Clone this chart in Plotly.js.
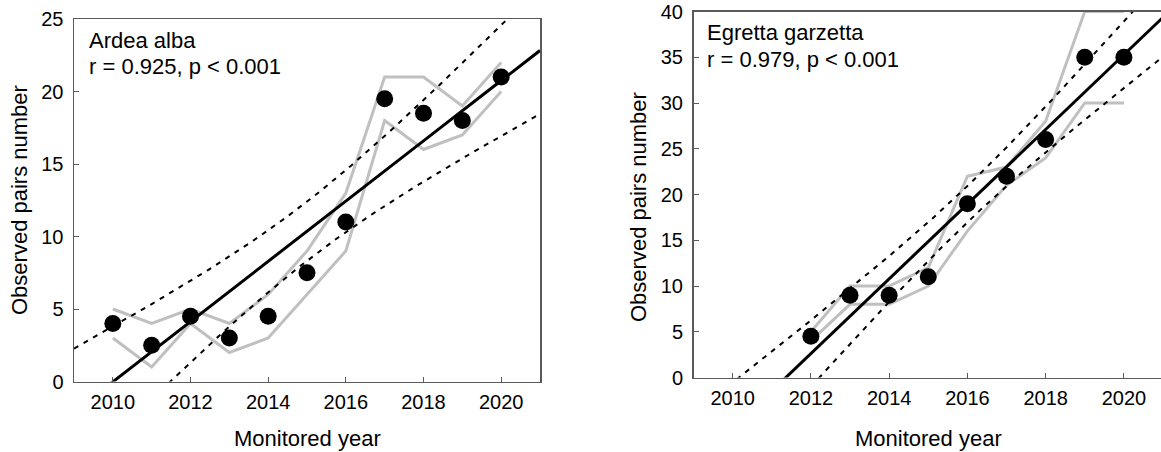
<!DOCTYPE html>
<html>
<head>
<meta charset="utf-8">
<script src="https://cdn.plot.ly/plotly-3.0.1.min.js"></script>
<style>
  html, body { margin: 0; padding: 0; overflow: hidden; background: #ffffff; }
  #chart { width: 1170px; height: 452px; }
</style>
</head>
<body>
<div id="chart"></div>
<script>
// ---- Observed breeding pairs per monitored year ----
// Ardea alba
const albaYears = [2010, 2011, 2012, 2013, 2014, 2015, 2016, 2017, 2018, 2019, 2020];
const albaMean  = [4, 2.5, 4.5, 3, 4.5, 7.5, 11, 19.5, 18.5, 18, 21];
const albaMax   = [5, 4, 5, 4, 6, 9, 13, 21, 21, 19, 22];
const albaMin   = [3, 1, 4, 2, 3, 6, 9, 18, 16, 17, 20];
const albaTitle = "Ardea alba";
const albaStats = "r = 0.925, p < 0.001";

// Egretta garzetta
const garzYears = [2012, 2013, 2014, 2015, 2016, 2017, 2018, 2019, 2020];
const garzMean  = [4.5, 9, 9, 11, 19, 22, 26, 35, 35];
const garzMax   = [5, 10, 10, 12, 22, 23, 28, 40, 40];
const garzMin   = [4, 8, 8, 10, 16, 21, 24, 30, 30];
const garzTitle = "Egretta garzetta";
const garzStats = "r = 0.979, p < 0.001";

// Axis labels and ticks
const xTitle = "Monitored year";
const yTitle = "Observed pairs number";
const yearTicks = [2010, 2012, 2014, 2016, 2018, 2020];
const yearRange = [2009, 2021];

// Two-sided 95% Student t quantiles for n - 2 degrees of freedom
const tCrit = { 7: 2.365, 9: 2.262 };

// Least-squares line with 95% confidence band of the mean
function regression(xs, ys, x0, x1) {
  const n = xs.length;
  const mx = xs.reduce((a, b) => a + b, 0) / n;
  const my = ys.reduce((a, b) => a + b, 0) / n;
  let sxx = 0, sxy = 0;
  for (let i = 0; i < n; i++) {
    sxx += (xs[i] - mx) * (xs[i] - mx);
    sxy += (xs[i] - mx) * (ys[i] - my);
  }
  const b = sxy / sxx, a = my - b * mx;
  let sse = 0;
  for (let i = 0; i < n; i++) {
    const e = ys[i] - (a + b * xs[i]);
    sse += e * e;
  }
  const s = Math.sqrt(sse / (n - 2));
  const t = tCrit[n - 2];
  const gx = [], fit = [], lo = [], hi = [];
  const steps = 240;
  for (let k = 0; k <= steps; k++) {
    const x = x0 + (x1 - x0) * k / steps;
    const yhat = a + b * x;
    const half = t * s * Math.sqrt(1 / n + (x - mx) * (x - mx) / sxx);
    gx.push(x); fit.push(yhat); lo.push(yhat - half); hi.push(yhat + half);
  }
  return { gx, fit, lo, hi };
}

// ---- Page geometry (pixels) ----
const W = 1170, H = 452;
const panels = {
  left:  { x0: 74,    x1: 540,  top: 19,   bottom: 381.5 },
  right: { x0: 693.5, x1: 1163, top: 11.5, bottom: 377.5 }
};
const px = v => v / W;
const py = v => (H - v) / H;

const FONT = "Liberation Sans, Arial, Helvetica, sans-serif";
const GREY = "#c0c0c0";
const FRAME = "#5a5a5a";

function panelTraces(xs, mean, mx, mn, xa, ya) {
  const reg = regression(xs, mean, yearRange[0], yearRange[1]);
  const common = { xaxis: xa, yaxis: ya, hoverinfo: "skip", showlegend: false };
  return [
    Object.assign({ x: xs, y: mx, mode: "lines", line: { color: GREY, width: 3 } }, common),
    Object.assign({ x: xs, y: mn, mode: "lines", line: { color: GREY, width: 3 } }, common),
    Object.assign({ x: reg.gx, y: reg.hi, mode: "lines", line: { color: "#000", width: 2, dash: "5px,6px" } }, common),
    Object.assign({ x: reg.gx, y: reg.lo, mode: "lines", line: { color: "#000", width: 2, dash: "5px,6px" } }, common),
    Object.assign({ x: reg.gx, y: reg.fit, mode: "lines", line: { color: "#000", width: 3 } }, common),
    Object.assign({ x: xs, y: mean, mode: "markers", marker: { color: "#000", size: 17 } }, common)
  ];
}

const traces = [].concat(
  panelTraces(albaYears, albaMean, albaMax, albaMin, "x", "y"),
  panelTraces(garzYears, garzMean, garzMax, garzMin, "x2", "y2")
);

function xAxis(p, anchor) {
  return {
    domain: [px(p.x0), px(p.x1)], anchor: anchor,
    range: yearRange, tickvals: yearTicks,
    ticks: "inside", ticklen: 5, tickwidth: 1, tickcolor: FRAME,
    showline: true, mirror: true, linecolor: FRAME, linewidth: 1.5,
    showgrid: false, zeroline: false, fixedrange: true,
    ticklabelstandoff: 2,
    tickfont: { family: FONT, size: 20, color: "#000" }
  };
}
function yAxis(p, anchor, maxVal) {
  return {
    domain: [py(p.bottom), py(p.top)], anchor: anchor,
    range: [0, maxVal], dtick: 5, tick0: 0,
    ticks: "inside", ticklen: 5, tickwidth: 1, tickcolor: FRAME,
    showline: true, mirror: true, linecolor: FRAME, linewidth: 1.5,
    showgrid: false, zeroline: false, fixedrange: true,
    ticklabelstandoff: 5,
    tickfont: { family: FONT, size: 20, color: "#000" }
  };
}

function label(text, xPix, yPix, opts) {
  return Object.assign({
    text: text, xref: "paper", yref: "paper",
    x: px(xPix), y: py(yPix), showarrow: false,
    xanchor: "left", yanchor: "middle",
    font: { family: FONT, size: 22, color: "#000" }
  }, opts || {});
}

const annotations = [
  label(albaTitle, 87, 41),
  label(albaStats, 87, 67),
  label(garzTitle, 705, 33),
  label(garzStats, 705, 59.5),
  label(xTitle, 307, 438, { xanchor: "center" }),
  label(xTitle, 928, 438, { xanchor: "center" }),
  label(yTitle, 19, 200, { xanchor: "center", textangle: -90 }),
  label(yTitle, 638, 207, { xanchor: "center", textangle: -90 })
];

const layout = {
  width: W, height: H,
  margin: { l: 0, r: 0, t: 0, b: 0, pad: 0 },
  paper_bgcolor: "#ffffff", plot_bgcolor: "#ffffff",
  showlegend: false,
  xaxis: xAxis(panels.left, "y"),
  yaxis: yAxis(panels.left, "x", 25),
  xaxis2: xAxis(panels.right, "y2"),
  yaxis2: yAxis(panels.right, "x2", 40),
  annotations: annotations
};

Plotly.newPlot("chart", traces, layout, { displayModeBar: false, staticPlot: true });
</script>
</body>
</html>
